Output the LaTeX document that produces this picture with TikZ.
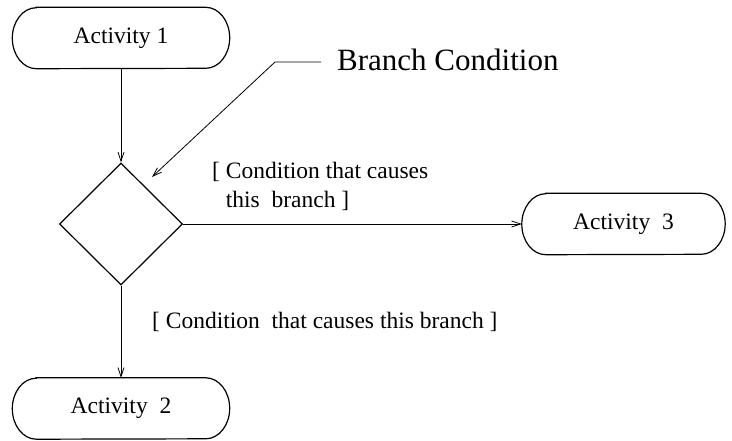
\documentclass[tikz,border=0pt]{standalone}
\usepackage{fontspec}
\setmainfont{Liberation Serif}
\usetikzlibrary{arrows.meta,shapes.geometric}
\tikzset{>={Straight Barb[length=9pt,width=6pt]},line width=.8pt,
  every node/.style={font=\fontsize{23.5}{29}\selectfont},
  activity/.style={minimum width=217pt,minimum height=61pt,inner sep=0pt},
  frame/.style={line width=1.2pt},
  decision/.style={draw,diamond,line width=1.2pt,minimum width=123pt,
    minimum height=122pt,inner sep=0pt},
  flow/.style={->,line width=.8pt},
  guard/.style={align=left,anchor=west,inner sep=0pt}}
% outline with elliptic ends round an activity node
\newcommand{\actframe}[1]{\draw[frame] ([xshift=24pt]#1.north west)--([xshift=-24pt]#1.north east)
  arc[start angle=90,end angle=-90,x radius=24pt,y radius=30.5pt]--([xshift=24pt]#1.south west)
  arc[start angle=270,end angle=90,x radius=24pt,y radius=30.5pt]--cycle;}
\begin{document}
\begin{tikzpicture}[x=1pt,y=-1pt]
\path[use as bounding box] (0,0) rectangle (732,440);

\node[activity] (act1) at (121,38) {Activity 1};\actframe{act1}
\node[decision] (branch) at (121,224) {};
\node[activity,minimum width=203pt] (act3) at (623.5,224) {Activity\ \ 3};\actframe{act3}
\node[activity] (act2) at (121,408.5) {Activity\ \ 2};\actframe{act2}
\draw[flow] (act1)--(branch);
\draw[flow] (branch.east)--(act3.west);
\draw[flow] (branch.south)--(act2.north);
\node[guard] (guard3) at (212,186) {[ Condition that causes\\\phantom{[ }this\ \ branch ]};
\node[guard] (guard2) at (152,322) {[ Condition\ \ that causes this branch ]};
\node[anchor=west,inner sep=0pt,font=\fontsize{31}{36}\selectfont] (cond) at (337,60) {Branch Condition};
\coordinate (knee) at (275,62);\coordinate (tip) at (152,177);
\draw[flow] ([xshift=-16pt,yshift=-2pt]cond.west)--(knee)--(tip);
\end{tikzpicture}
\end{document}
